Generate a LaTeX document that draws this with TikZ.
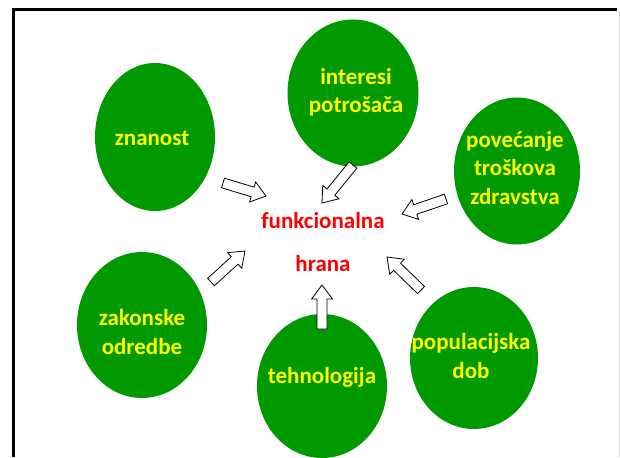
\documentclass[tikz,border=0pt]{standalone}
\usepackage{fontspec}
\setmainfont{Carlito}
\usetikzlibrary{shapes.geometric,calc}
\definecolor{leafgreen}{RGB}{0,153,0}
\definecolor{ytext}{RGB}{255,255,0}
\definecolor{rtext}{RGB}{255,0,0}
\tikzset{
  blob/.style={ellipse, fill=leafgreen, draw=none, inner sep=0pt},
  ylabel/.style={text=ytext, font=\bfseries\fontsize{23}{28.5}\selectfont, align=center, inner sep=0pt},
  rlabel/.style={text=rtext, font=\bfseries\fontsize{23}{24}\selectfont, inner sep=0pt},
  barrow/.style={draw=black, fill=white, line width=0.8pt, line join=miter}
}
\newcommand{\blockarr}[2]{%
  \draw[barrow] ($(#1)!5pt!90:(#2)$) -- ($($(#2)!14pt!(#1)$)!5pt!-90:(#1)$) --
    ($($(#2)!14pt!(#1)$)!10.5pt!-90:(#1)$) -- (#2) --
    ($($(#2)!14pt!(#1)$)!10.5pt!90:(#1)$) -- ($($(#2)!14pt!(#1)$)!5pt!90:(#1)$) --
    ($(#1)!5pt!-90:(#2)$) -- cycle;}
\begin{document}
\begin{tikzpicture}[x=1pt,y=-1pt]
\useasboundingbox (0,0) rectangle (620,457);
\fill[white] (0,0) rectangle (620,457);
% frame
\draw[line width=3pt, black] (13.5,457) -- (13.5,9.5) -- (617,9.5);
\draw[line width=0.8pt, black!15] (619,11) -- (619,457);
% ellipses
\node[blob, minimum width=120pt, minimum height=148pt] (zn) at (155,137) {};
\node[blob, minimum width=131pt, minimum height=147pt] (ip) at (353,93) {};
\node[blob, minimum width=126pt, minimum height=147pt] (pt) at (517,171) {};
\node[blob, minimum width=130pt, minimum height=146pt] (zo) at (142,325) {};
\node[blob, minimum width=130pt, minimum height=144pt] (te) at (322,386) {};
\node[blob, minimum width=128pt, minimum height=142pt] (pd) at (474,358) {};
% labels
\node[ylabel] (tzn) at (152,138) {znanost};
\node[ylabel] (tip) at (356,92) {interesi\\potrošača};
\node[ylabel] (tpt) at (515,168) {povećanje\\troškova\\zdravstva};
\node[ylabel] (tzo) at (142,332) {zakonske\\odredbe};
\node[ylabel] (tte) at (322,377) {tehnologija};
\node[ylabel] (tpd) at (471,356) {populacijska\\dob};
\node[rlabel] (f1) at (323,221) {funkcionalna};
\node[rlabel] (f2) at (323,264) {hrana};
% arrow ends
\coordinate (a1) at (223,183); \coordinate (b1) at (266,196);
\coordinate (a2) at (353,165); \coordinate (b2) at (322,203);
\coordinate (a3) at (446,199); \coordinate (b3) at (402,214);
\coordinate (a4) at (211,282); \coordinate (b4) at (245,251);
\coordinate (a5) at (322,329); \coordinate (b5) at (322,285);
\coordinate (a6) at (421,290); \coordinate (b6) at (387,257);
\blockarr{a1}{b1}
\blockarr{a2}{b2}
\blockarr{a3}{b3}
\blockarr{a4}{b4}
\blockarr{a5}{b5}
\blockarr{a6}{b6}
\end{tikzpicture}
\end{document}
